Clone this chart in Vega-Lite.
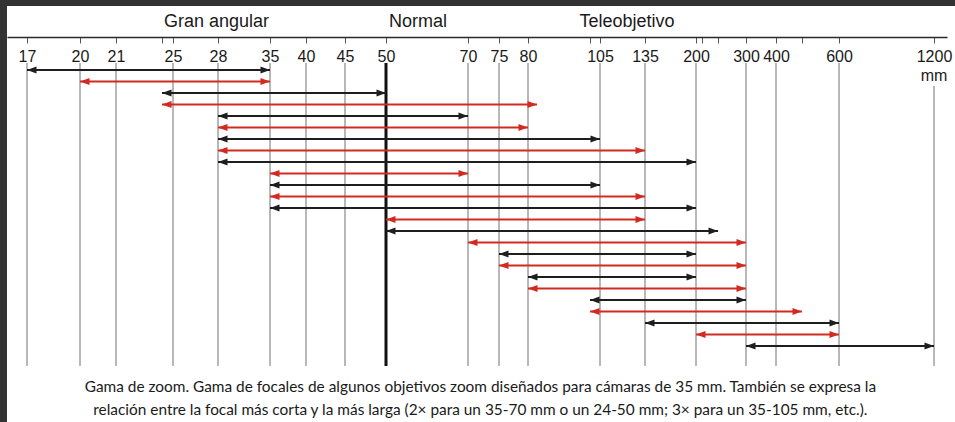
{
  "$schema": "https://vega.github.io/schema/vega-lite/v6.json",
  "width": 948,
  "height": 385,
  "autosize": {"type": "none"},
  "padding": {"left": 7, "top": 37, "right": 0, "bottom": 0},
  "background": "#333333",
  "config": {
    "view": {"stroke": null},
    "font": "Liberation Sans",
    "axisX": {
      "grid": false,
      "domainColor": "#2a2a2a", "domainWidth": 1.5,
      "tickColor": "#555555", "tickSize": -6, "tickWidth": 1,
      "labelFont": "Liberation Sans", "labelFontSize": 16, "labelColor": "#1a1a1a",
      "labelPadding": -5, "labelBaseline": "top", "labelOverlap": false, "labelFlush": false
    }
  },
  "datasets": {
    "arrows": [
      {"row": 1, "start": 17, "end": 35, "c": "negro"},
      {"row": 2, "start": 20, "end": 35, "c": "rojo"},
      {"row": 3, "start": 24, "end": 50, "c": "negro"},
      {"row": 4, "start": 24, "end": 85, "c": "rojo"},
      {"row": 5, "start": 28, "end": 70, "c": "negro"},
      {"row": 6, "start": 28, "end": 80, "c": "rojo"},
      {"row": 7, "start": 28, "end": 105, "c": "negro"},
      {"row": 8, "start": 28, "end": 135, "c": "rojo"},
      {"row": 9, "start": 28, "end": 200, "c": "negro"},
      {"row": 10, "start": 35, "end": 70, "c": "rojo"},
      {"row": 11, "start": 35, "end": 105, "c": "negro"},
      {"row": 12, "start": 35, "end": 135, "c": "rojo"},
      {"row": 13, "start": 35, "end": 200, "c": "negro"},
      {"row": 14, "start": 50, "end": 135, "c": "rojo"},
      {"row": 15, "start": 50, "end": 250, "c": "negro"},
      {"row": 16, "start": 70, "end": 300, "c": "rojo"},
      {"row": 17, "start": 75, "end": 200, "c": "negro"},
      {"row": 18, "start": 75, "end": 300, "c": "rojo"},
      {"row": 19, "start": 80, "end": 200, "c": "negro"},
      {"row": 20, "start": 80, "end": 300, "c": "rojo"},
      {"row": 21, "start": 100, "end": 300, "c": "negro"},
      {"row": 22, "start": 100, "end": 500, "c": "rojo"},
      {"row": 23, "start": 135, "end": 600, "c": "negro"},
      {"row": 24, "start": 200, "end": 600, "c": "rojo"},
      {"row": 25, "start": 300, "end": 1200, "c": "negro"}
    ],
    "grid": [
      {"focal": 17}, {"focal": 20}, {"focal": 21}, {"focal": 25}, {"focal": 28},
      {"focal": 35}, {"focal": 40}, {"focal": 45}, {"focal": 70}, {"focal": 75},
      {"focal": 80}, {"focal": 105}, {"focal": 135}, {"focal": 200}, {"focal": 300},
      {"focal": 400}, {"focal": 600}
    ],
    "headers": [
      {"label": "Gran angular", "focal": 27.9},
      {"label": "Normal", "focal": 57.8},
      {"label": "Teleobjetivo", "focal": 123}
    ]
  },
  "layer": [
    {
      "data": {"values": [{"x0": 16, "x1": 1362}]},
      "mark": {"type": "rect", "color": "white"},
      "encoding": {
        "x": {"field": "x0", "type": "quantitative",
              "scale": {"domain": [16, 17, 20, 21, 24, 25, 28, 35, 40, 45, 50, 70, 75, 80, 85, 100, 105, 135, 200, 210, 250, 300, 400, 500, 600, 1200, 1300],
                        "range": [0, 20, 73, 109, 155, 166, 211, 263, 299, 338, 379, 461, 492, 521, 530, 583, 593, 638, 689, 695, 711, 739, 769, 795, 832, 927, 940],
                        "nice": false, "zero": false},
              "axis": {"orient": "top", "title": null, "zindex": 2, "format": "d",
                       "values": [17, 20, 21, 24, 25, 28, 35, 40, 45, 50, 70, 75, 80, 100, 105, 135, 200, 210, 250, 300, 400, 500, 600, 1200],
                       "labelExpr": "indexof([24, 100, 210, 250, 500], datum.value) >= 0 ? '' : datum.label"}},
        "x2": {"field": "x1"},
        "y": {"datum": -4.565, "type": "quantitative", "scale": {"domain": [-1.8696, 31.609], "reverse": true, "nice": false, "zero": false}, "axis": null},
        "y2": {"datum": 31.609}
      }
    },
    {
      "data": {"name": "grid"},
      "mark": {"type": "rule", "color": "#707070", "strokeWidth": 1},
      "encoding": {
        "x": {"field": "focal", "type": "quantitative",
              "scale": {"domain": [16, 17, 20, 21, 24, 25, 28, 35, 40, 45, 50, 70, 75, 80, 85, 100, 105, 135, 200, 210, 250, 300, 400, 500, 600, 1200, 1300],
                        "range": [0, 20, 73, 109, 155, 166, 211, 263, 299, 338, 379, 461, 492, 521, 530, 583, 593, 638, 689, 695, 711, 739, 769, 795, 832, 927, 940],
                        "nice": false, "zero": false},
              "axis": {"orient": "top", "title": null, "zindex": 2, "format": "d",
                       "values": [17, 20, 21, 24, 25, 28, 35, 40, 45, 50, 70, 75, 80, 100, 105, 135, 200, 210, 250, 300, 400, 500, 600, 1200],
                       "labelExpr": "indexof([24, 100, 210, 250, 500], datum.value) >= 0 ? '' : datum.label"}},
        "y": {"datum": 0.391, "type": "quantitative", "scale": {"domain": [-1.8696, 31.609], "reverse": true, "nice": false, "zero": false}, "axis": null},
        "y2": {"datum": 26.739}
      }
    },
    {
      "data": {"values": [{"focal": 50}]},
      "mark": {"type": "rule", "color": "#111111", "strokeWidth": 3},
      "encoding": {
        "x": {"field": "focal", "type": "quantitative",
              "scale": {"domain": [16, 17, 20, 21, 24, 25, 28, 35, 40, 45, 50, 70, 75, 80, 85, 100, 105, 135, 200, 210, 250, 300, 400, 500, 600, 1200, 1300],
                        "range": [0, 20, 73, 109, 155, 166, 211, 263, 299, 338, 379, 461, 492, 521, 530, 583, 593, 638, 689, 695, 711, 739, 769, 795, 832, 927, 940],
                        "nice": false, "zero": false},
              "axis": {"orient": "top", "title": null, "zindex": 2, "format": "d",
                       "values": [17, 20, 21, 24, 25, 28, 35, 40, 45, 50, 70, 75, 80, 100, 105, 135, 200, 210, 250, 300, 400, 500, 600, 1200],
                       "labelExpr": "indexof([24, 100, 210, 250, 500], datum.value) >= 0 ? '' : datum.label"}},
        "y": {"datum": 0.391, "type": "quantitative", "scale": {"domain": [-1.8696, 31.609], "reverse": true, "nice": false, "zero": false}, "axis": null},
        "y2": {"datum": 26.739}
      }
    },
    {
      "data": {"values": [{"focal": 1200}]},
      "mark": {"type": "rule", "color": "#707070", "strokeWidth": 1},
      "encoding": {
        "x": {"field": "focal", "type": "quantitative",
              "scale": {"domain": [16, 17, 20, 21, 24, 25, 28, 35, 40, 45, 50, 70, 75, 80, 85, 100, 105, 135, 200, 210, 250, 300, 400, 500, 600, 1200, 1300],
                        "range": [0, 20, 73, 109, 155, 166, 211, 263, 299, 338, 379, 461, 492, 521, 530, 583, 593, 638, 689, 695, 711, 739, 769, 795, 832, 927, 940],
                        "nice": false, "zero": false},
              "axis": {"orient": "top", "title": null, "zindex": 2, "format": "d",
                       "values": [17, 20, 21, 24, 25, 28, 35, 40, 45, 50, 70, 75, 80, 100, 105, 135, 200, 210, 250, 300, 400, 500, 600, 1200],
                       "labelExpr": "indexof([24, 100, 210, 250, 500], datum.value) >= 0 ? '' : datum.label"}},
        "y": {"datum": 2.39, "type": "quantitative", "scale": {"domain": [-1.8696, 31.609], "reverse": true, "nice": false, "zero": false}, "axis": null},
        "y2": {"datum": 26.739}
      }
    },
    {
      "data": {"name": "arrows"},
      "mark": {"type": "rule", "strokeWidth": 1.8},
      "encoding": {
        "x": {"field": "start", "type": "quantitative",
              "scale": {"domain": [16, 17, 20, 21, 24, 25, 28, 35, 40, 45, 50, 70, 75, 80, 85, 100, 105, 135, 200, 210, 250, 300, 400, 500, 600, 1200, 1300],
                        "range": [0, 20, 73, 109, 155, 166, 211, 263, 299, 338, 379, 461, 492, 521, 530, 583, 593, 638, 689, 695, 711, 739, 769, 795, 832, 927, 940],
                        "nice": false, "zero": false},
              "axis": {"orient": "top", "title": null, "zindex": 2, "format": "d",
                       "values": [17, 20, 21, 24, 25, 28, 35, 40, 45, 50, 70, 75, 80, 100, 105, 135, 200, 210, 250, 300, 400, 500, 600, 1200],
                       "labelExpr": "indexof([24, 100, 210, 250, 500], datum.value) >= 0 ? '' : datum.label"}},
        "x2": {"field": "end"},
        "y": {"field": "row", "type": "quantitative", "scale": {"domain": [-1.8696, 31.609], "reverse": true, "nice": false, "zero": false}, "axis": null},
        "color": {"field": "c", "type": "nominal", "scale": {"domain": ["negro", "rojo"], "range": ["#1e1e1e", "#d22a20"]}, "legend": null}
      }
    },
    {
      "data": {"name": "arrows"},
      "mark": {"type": "point", "shape": "M0,0L2,-0.72L2,0.72Z", "filled": true, "size": 90, "opacity": 1, "strokeWidth": 0},
      "encoding": {
        "x": {"field": "start", "type": "quantitative",
              "scale": {"domain": [16, 17, 20, 21, 24, 25, 28, 35, 40, 45, 50, 70, 75, 80, 85, 100, 105, 135, 200, 210, 250, 300, 400, 500, 600, 1200, 1300],
                        "range": [0, 20, 73, 109, 155, 166, 211, 263, 299, 338, 379, 461, 492, 521, 530, 583, 593, 638, 689, 695, 711, 739, 769, 795, 832, 927, 940],
                        "nice": false, "zero": false},
              "axis": {"orient": "top", "title": null, "zindex": 2, "format": "d",
                       "values": [17, 20, 21, 24, 25, 28, 35, 40, 45, 50, 70, 75, 80, 100, 105, 135, 200, 210, 250, 300, 400, 500, 600, 1200],
                       "labelExpr": "indexof([24, 100, 210, 250, 500], datum.value) >= 0 ? '' : datum.label"}},
        "y": {"field": "row", "type": "quantitative", "scale": {"domain": [-1.8696, 31.609], "reverse": true, "nice": false, "zero": false}, "axis": null},
        "color": {"field": "c", "type": "nominal", "scale": {"domain": ["negro", "rojo"], "range": ["#1e1e1e", "#d22a20"]}, "legend": null}
      }
    },
    {
      "data": {"name": "arrows"},
      "mark": {"type": "point", "shape": "M0,0L-2,-0.72L-2,0.72Z", "filled": true, "size": 90, "opacity": 1, "strokeWidth": 0},
      "encoding": {
        "x": {"field": "end", "type": "quantitative",
              "scale": {"domain": [16, 17, 20, 21, 24, 25, 28, 35, 40, 45, 50, 70, 75, 80, 85, 100, 105, 135, 200, 210, 250, 300, 400, 500, 600, 1200, 1300],
                        "range": [0, 20, 73, 109, 155, 166, 211, 263, 299, 338, 379, 461, 492, 521, 530, 583, 593, 638, 689, 695, 711, 739, 769, 795, 832, 927, 940],
                        "nice": false, "zero": false},
              "axis": {"orient": "top", "title": null, "zindex": 2, "format": "d",
                       "values": [17, 20, 21, 24, 25, 28, 35, 40, 45, 50, 70, 75, 80, 100, 105, 135, 200, 210, 250, 300, 400, 500, 600, 1200],
                       "labelExpr": "indexof([24, 100, 210, 250, 500], datum.value) >= 0 ? '' : datum.label"}},
        "y": {"field": "row", "type": "quantitative", "scale": {"domain": [-1.8696, 31.609], "reverse": true, "nice": false, "zero": false}, "axis": null},
        "color": {"field": "c", "type": "nominal", "scale": {"domain": ["negro", "rojo"], "range": ["#1e1e1e", "#d22a20"]}, "legend": null}
      }
    },
    {
      "data": {"name": "headers"},
      "mark": {"type": "text", "font": "Liberation Sans", "fontSize": 18, "color": "#1a1a1a", "align": "center", "baseline": "alphabetic"},
      "encoding": {
        "x": {"field": "focal", "type": "quantitative",
              "scale": {"domain": [16, 17, 20, 21, 24, 25, 28, 35, 40, 45, 50, 70, 75, 80, 85, 100, 105, 135, 200, 210, 250, 300, 400, 500, 600, 1200, 1300],
                        "range": [0, 20, 73, 109, 155, 166, 211, 263, 299, 338, 379, 461, 492, 521, 530, 583, 593, 638, 689, 695, 711, 739, 769, 795, 832, 927, 940],
                        "nice": false, "zero": false},
              "axis": {"orient": "top", "title": null, "zindex": 2, "format": "d",
                       "values": [17, 20, 21, 24, 25, 28, 35, 40, 45, 50, 70, 75, 80, 100, 105, 135, 200, 210, 250, 300, 400, 500, 600, 1200],
                       "labelExpr": "indexof([24, 100, 210, 250, 500], datum.value) >= 0 ? '' : datum.label"}},
        "y": {"datum": -2.739, "type": "quantitative", "scale": {"domain": [-1.8696, 31.609], "reverse": true, "nice": false, "zero": false}, "axis": null},
        "text": {"field": "label"}
      }
    },
    {
      "data": {"values": [{"unit": "mm", "focal": 1200}]},
      "mark": {"type": "text", "font": "Liberation Sans", "fontSize": 16, "color": "#1a1a1a", "align": "center", "baseline": "alphabetic"},
      "encoding": {
        "x": {"field": "focal", "type": "quantitative",
              "scale": {"domain": [16, 17, 20, 21, 24, 25, 28, 35, 40, 45, 50, 70, 75, 80, 85, 100, 105, 135, 200, 210, 250, 300, 400, 500, 600, 1200, 1300],
                        "range": [0, 20, 73, 109, 155, 166, 211, 263, 299, 338, 379, 461, 492, 521, 530, 583, 593, 638, 689, 695, 711, 739, 769, 795, 832, 927, 940],
                        "nice": false, "zero": false},
              "axis": {"orient": "top", "title": null, "zindex": 2, "format": "d",
                       "values": [17, 20, 21, 24, 25, 28, 35, 40, 45, 50, 70, 75, 80, 100, 105, 135, 200, 210, 250, 300, 400, 500, 600, 1200],
                       "labelExpr": "indexof([24, 100, 210, 250, 500], datum.value) >= 0 ? '' : datum.label"}},
        "y": {"datum": 1.957, "type": "quantitative", "scale": {"domain": [-1.8696, 31.609], "reverse": true, "nice": false, "zero": false}, "axis": null},
        "text": {"field": "unit"}
      }
    },
    {
      "data": {"values": [{"caption": ["Gama de zoom. Gama de focales de algunos objetivos zoom diseñados para cámaras de 35 mm. También se expresa la", "relación entre la focal más corta y la más larga (2× para un 35-70 mm o un 24-50 mm; 3× para un 35-105 mm, etc.)."]}]},
      "mark": {"type": "text", "font": "Lato", "fontSize": 15.4, "color": "#1a1a1a", "align": "center", "baseline": "alphabetic", "lineHeight": 23},
      "encoding": {
        "x": {"datum": 72, "type": "quantitative",
              "scale": {"domain": [16, 17, 20, 21, 24, 25, 28, 35, 40, 45, 50, 70, 75, 80, 85, 100, 105, 135, 200, 210, 250, 300, 400, 500, 600, 1200, 1300],
                        "range": [0, 20, 73, 109, 155, 166, 211, 263, 299, 338, 379, 461, 492, 521, 530, 583, 593, 638, 689, 695, 711, 739, 769, 795, 832, 927, 940],
                        "nice": false, "zero": false},
              "axis": {"orient": "top", "title": null, "zindex": 2, "format": "d",
                       "values": [17, 20, 21, 24, 25, 28, 35, 40, 45, 50, 70, 75, 80, 100, 105, 135, 200, 210, 250, 300, 400, 500, 600, 1200],
                       "labelExpr": "indexof([24, 100, 210, 250, 500], datum.value) >= 0 ? '' : datum.label"}},
        "y": {"datum": 29.0, "type": "quantitative", "scale": {"domain": [-1.8696, 31.609], "reverse": true, "nice": false, "zero": false}, "axis": null},
        "text": {"field": "caption"}
      }
    }
  ]
}
